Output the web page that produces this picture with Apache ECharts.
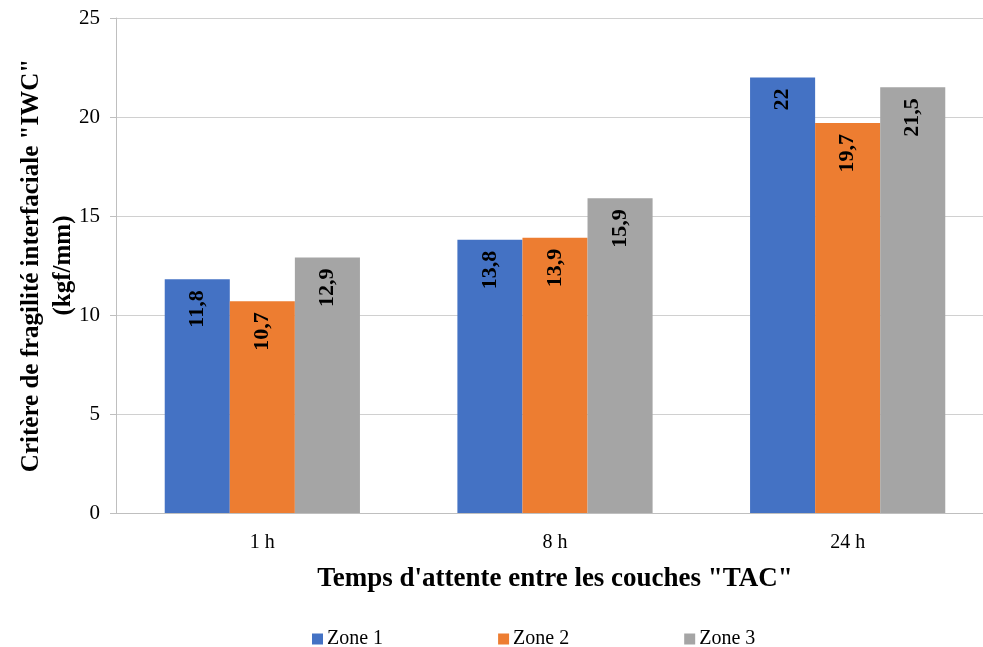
<!DOCTYPE html>
<html>
<head>
<meta charset="utf-8">
<script src="https://cdn.jsdelivr.net/npm/echarts@6/dist/echarts.min.js"></script>
<style>
  html, body { margin: 0; padding: 0; background: #fff; }
  #main { width: 983px; height: 647px; }
</style>
</head>
<body>
<div id="main"></div>
<script>
var categories = ['1 h', '8 h', '24 h'];
var zone1 = [11.8, 13.8, 22];
var zone2 = [10.7, 13.9, 19.7];
var zone3 = [12.9, 15.9, 21.5];
var seriesNames = ['Zone 1', 'Zone 2', 'Zone 3'];
var colors = ['#4472c4', '#ed7d31', '#a5a5a5'];

var font = '"Liberation Serif", "Times New Roman", serif';

var chart = echarts.init(document.getElementById('main'));

function makeSeries(name, data, color) {
    return {
        name: name,
        type: 'bar',
        data: data,
        barGap: '0%',
        barCategoryGap: '33.3%',
        itemStyle: { color: color },
        label: {
            show: true,
            position: 'insideTop',
            rotate: 90,
            align: 'right',
            verticalAlign: 'middle',
            distance: 11,
            fontFamily: font,
            fontWeight: 'bold',
            fontSize: 22,
            color: '#000',
            formatter: function (p) { return String(p.value).replace('.', ','); }
        }
    };
}

var option = {
    animation: false,
    textStyle: { fontFamily: font },
    color: colors,
    grid: { left: 116, top: 18, width: 878, height: 495, outerBoundsMode: 'none', containLabel: false },
    legend: {
        top: 624,
        left: 307,
        itemWidth: 11,
        itemHeight: 11,
        itemGap: 115,
        icon: 'rect',
        textStyle: { fontFamily: font, fontSize: 20, color: '#000', padding: [0, 0, 0, -1] },
        data: seriesNames
    },
    xAxis: {
        type: 'category',
        data: categories,
        axisLine: { lineStyle: { color: '#bfbfbf' } },
        axisTick: { show: false },
        axisLabel: { fontFamily: font, fontSize: 20, color: '#000', margin: 20 },
        name: 'Temps d\'attente entre les couches "TAC"',
        nameLocation: 'middle',
        nameGap: 53,
        nameMoveOverlap: false,
        nameTextStyle: { fontFamily: font, fontSize: 27, fontWeight: 'bold', color: '#000' }
    },
    yAxis: {
        type: 'value',
        min: 0,
        max: 25,
        interval: 5,
        axisLine: { show: true, lineStyle: { color: '#bfbfbf' } },
        axisTick: { show: true, length: 6, inside: false, lineStyle: { color: '#bfbfbf' } },
        splitLine: { lineStyle: { color: '#d0d0d0' } },
        axisLabel: { fontFamily: font, fontSize: 21, color: '#000', margin: 16 },
        name: 'Critère de fragilité interfaciale "IWC"\n(kgf/mm)',
        nameLocation: 'middle',
        nameGap: 36,
        nameMoveOverlap: false,
        nameTextStyle: { fontFamily: font, fontSize: 25, fontWeight: 'bold', color: '#000', lineHeight: 32 }
    },
    series: [
        makeSeries(seriesNames[0], zone1, colors[0]),
        makeSeries(seriesNames[1], zone2, colors[1]),
        makeSeries(seriesNames[2], zone3, colors[2])
    ]
};

chart.setOption(option);
</script>
</body>
</html>
